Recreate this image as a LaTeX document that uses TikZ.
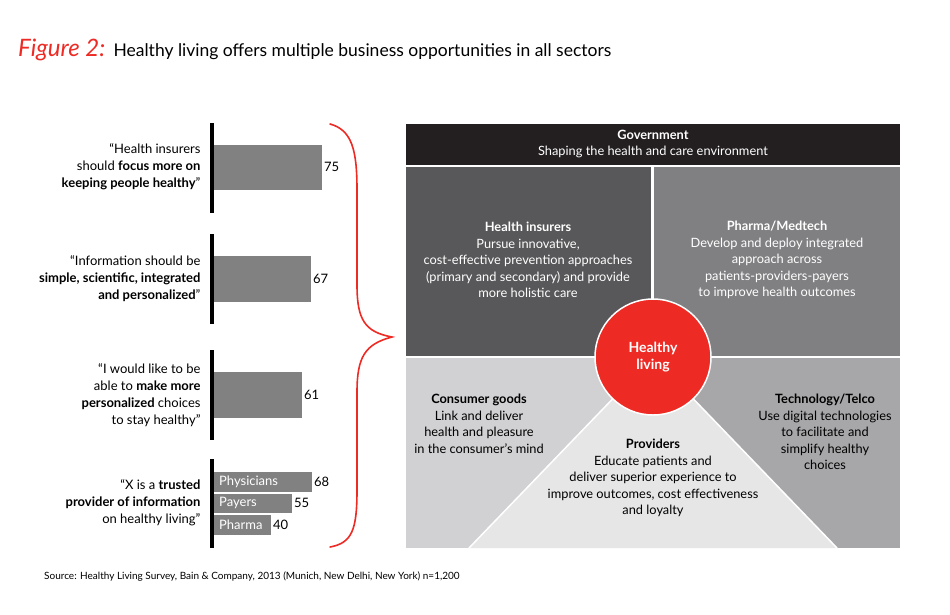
\documentclass[tikz,border=0pt]{standalone}
\usepackage{fontspec}
\setmainfont{Lato}
\usetikzlibrary{positioning}
\definecolor{govgray}{HTML}{231F20}
\definecolor{insgray}{HTML}{58585A}
\definecolor{phgray}{HTML}{808082}
\definecolor{cggray}{HTML}{D1D1D3}
\definecolor{tcgray}{HTML}{A7A7A9}
\definecolor{prgray}{HTML}{E6E6E6}
\definecolor{bargray}{HTML}{818181}
\definecolor{bainred}{HTML}{EE2A24}
\tikzset {
  % quotation at the left
  quote/.style = {
    align = right,
    anchor = east,
    font = \fontsize{13}{17}\selectfont
  },
  bar/.style = {
    fill = bargray,
    draw = none
  },
  value/.style = {
    anchor = west,
    font = \fontsize{13}{15}\selectfont,
    inner sep = 2pt
  },
  axis/.style = {
    line width = 4pt,
    black
  },
  % text of a sector
  sector/.style = {
    align = center,
    font = \fontsize{12.8}{16.5}\selectfont
  }
}
\begin{document}
\begin{tikzpicture}[x=1pt, y=-1pt]
  \useasboundingbox (0,0) rectangle (950,614);
  \fill[white] (0,0) rectangle (950,614);

  \node[anchor=west, inner sep=0] (title) at (18,50)
    {\fontsize{24}{26}\selectfont\textcolor{bainred}{\itshape Figure 2:}
     \fontsize{17.5}{20}\selectfont Healthy living offers multiple business opportunities in all sectors};

  % bars
  \draw[axis] (212,123) -- (212,213);
  \draw[axis] (212,234) -- (212,324);
  \draw[axis] (212,350) -- (212,440);
  \draw[axis] (212,459) -- (212,548);
  \fill[bar] (214,145) rectangle (322,190) coordinate (b1);
  \fill[bar] (214,256) rectangle (311,302) coordinate (b2);
  \fill[bar] (214,372) rectangle (302,418) coordinate (b3);
  \fill[bar] (214,472) rectangle (312,492) coordinate (b4);
  \fill[bar] (214,494) rectangle (292,513) coordinate (b5);
  \fill[bar] (214,515) rectangle (271,535) coordinate (b6);
  \node[value] (v1) at (322,167) {75};
  \node[value] (v2) at (311,279) {67};
  \node[value] (v3) at (302,395) {61};
  \node[value] (v4) at (312,482) {68};
  \node[value] (v5) at (292,503) {55};
  \node[value] (v6) at (271,525) {40};
  \node[value, white] (phys) at (217,482) {Physicians};
  \node[value, white] (pay) at (217,503) {Payers};
  \node[value, white] (pha) at (217,525) {Pharma};

  \node[quote] (q1) at (204,167) {“Health insurers\\ should \textbf{focus more on}\\ \textbf{keeping people healthy}”};
  \node[quote] (q2) at (204,279) {“Information should be\\ \textbf{simple, scientific, integrated}\\ \textbf{and personalized}”};
  \node[quote] (q3) at (204,395) {“I would like to be\\ able to \textbf{make more}\\ \textbf{personalized} choices\\ to stay healthy”};
  \node[quote] (q4) at (204,503) {“X is a \textbf{trusted}\\ \textbf{provider of information}\\ on healthy living”};

  % brace
  \coordinate (btop) at (330,124);
  \coordinate (btip) at (392,337);
  \coordinate (bbot) at (330,547);
  \draw[bainred, line width=1.6pt, line cap=round]
    (btop) .. controls (352,130) and (357,150) .. (357,190)
    -- (357,285) .. controls (357,320) and (365,332) .. (btip)
    .. controls (365,344) and (357,357) .. (357,392)
    -- (357,490) .. controls (357,530) and (352,543) .. (bbot);

  % sectors
  \fill[govgray] (406,124) rectangle (900,165);
  \fill[insgray] (406,167) rectangle (651,356);
  \fill[phgray] (654,167) rectangle (900,356);
  \fill[cggray] (406,358) rectangle (653,548);
  \fill[tcgray] (653,358) rectangle (900,548);
  \fill[prgray] (653,357) -- (469,548) -- (837,548) -- cycle;
  \draw[white, line width=1.5pt] (653,357) -- (469,548);
  \draw[white, line width=1.5pt] (653,357) -- (837,548);
  \node[circle, fill=bainred, draw=white, line width=1.5pt, minimum size=116pt,
    text=white, align=center, font=\fontsize{14}{17}\selectfont\bfseries] (hl) at (653,357)
    {Healthy\\ living};

  \node[sector, text=white] (gov) at (653,144) {\textbf{Government}\\ Shaping the health and care environment};
  \node[sector, text=white] (ins) at (528,260) {\textbf{Health insurers}\\ Pursue innovative,\\ cost-effective prevention approaches\\ (primary and secondary) and provide\\ more holistic care};
  \node[sector, text=white] (pm) at (777,260) {\textbf{Pharma/Medtech}\\ Develop and deploy integrated\\ approach across\\ patients-providers-payers\\ to improve health outcomes};
  \node[sector] (cg) at (479,424) {\textbf{Consumer goods}\\ Link and deliver\\ health and pleasure\\ in the consumer’s mind};
  \node[sector] (tc) at (825,432) {\textbf{Technology/Telco}\\ Use digital technologies\\ to facilitate and\\ simplify healthy\\ choices};
  \node[sector] (pr) at (653,478) {\textbf{Providers}\\ Educate patients and\\ deliver superior experience to\\ improve outcomes, cost effectiveness\\ and loyalty};

  \node[anchor=west, inner sep=0, font=\fontsize{10}{12}\selectfont] (src) at (44,577)
    {Source: Healthy Living Survey, Bain \& Company, 2013 (Munich, New Delhi, New York) n=1,200};
\end{tikzpicture}
\end{document}
